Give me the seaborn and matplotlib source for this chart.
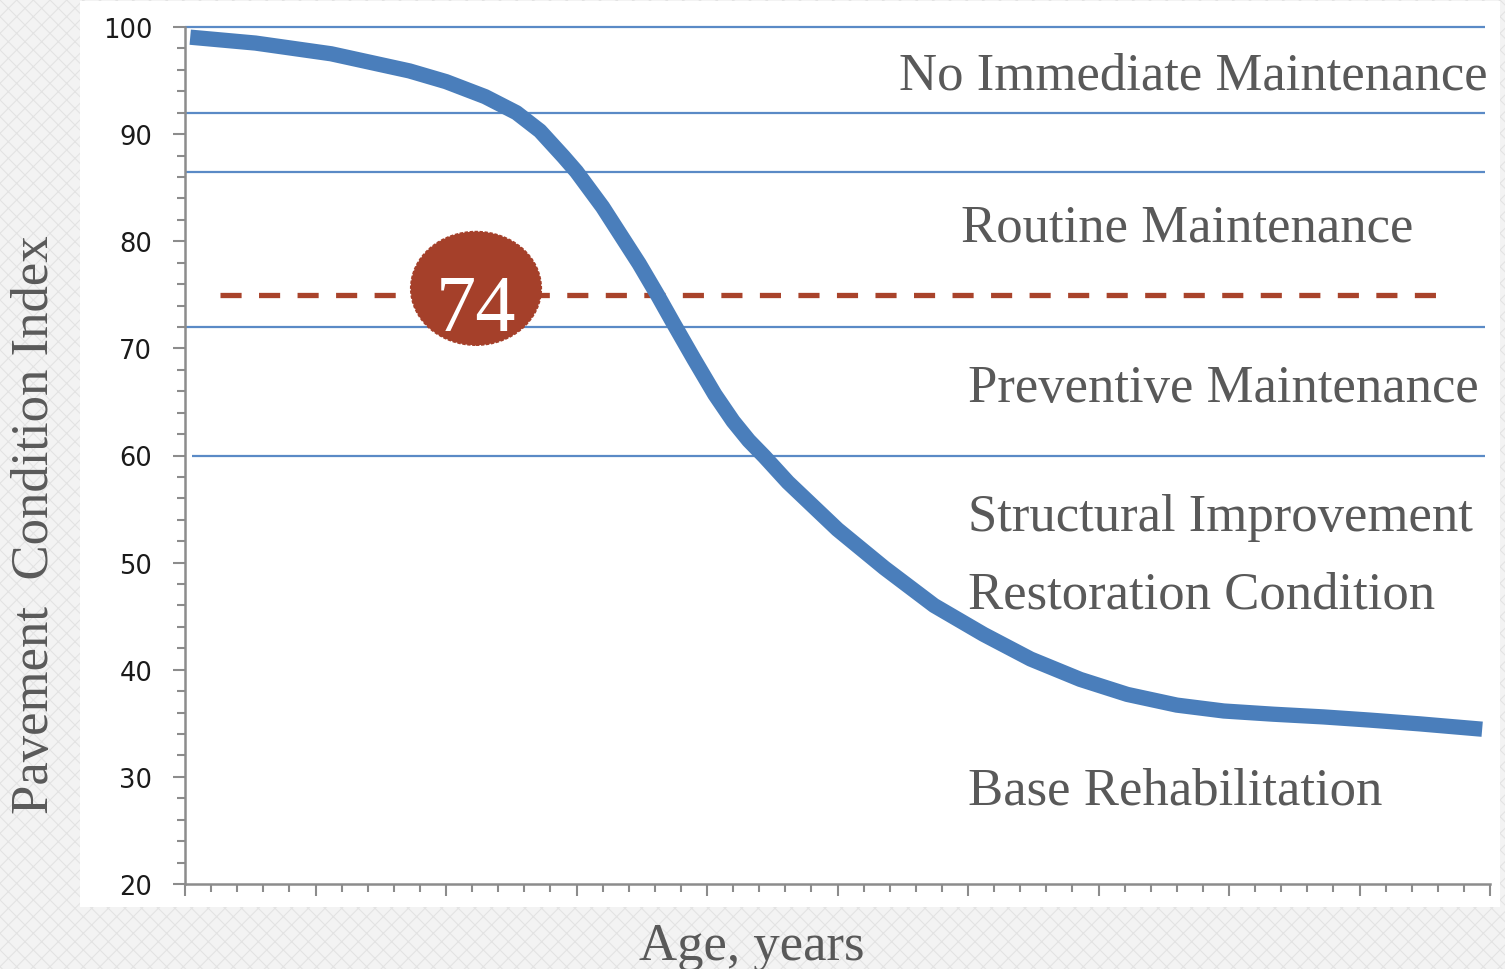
import matplotlib
matplotlib.use("Agg")
import matplotlib.pyplot as plt
import seaborn as sns
import pandas as pd
from matplotlib.patches import Rectangle, Ellipse
from matplotlib.ticker import MultipleLocator, NullFormatter

# ---- data ----
age_years = [0.2, 2.7, 5.6, 8.6, 10.0, 11.5, 12.7, 13.6, 14.5, 15.0, 16.0, 17.4,
             18.1, 18.7, 19.5, 20.3, 21.0, 21.6, 22.2, 23.1, 25.0, 26.8, 28.7,
             30.6, 32.4, 34.3, 36.1, 38.0, 39.8, 41.7, 43.6, 45.4, 47.3, 49.7]
pci = [99.05, 98.5, 97.5, 95.9, 94.9, 93.5, 92.0, 90.3, 87.9, 86.5, 83.2, 77.9,
       75.0, 72.4, 69.0, 65.7, 63.2, 61.4, 59.9, 57.5, 53.1, 49.5, 46.0,
       43.3, 41.0, 39.1, 37.7, 36.7, 36.15, 35.85, 35.6, 35.3, 34.95, 34.45]
thresholds = [100, 92, 86.5, 72, 60]
band_labels = ["No Immediate Maintenance", "Routine Maintenance",
               "Preventive Maintenance", "Structural Improvement",
               "Restoration Condition", "Base Rehabilitation"]
band_label_pci = [94.3, 80.1, 65.1, 53.0, 45.8, 27.5]
trigger_pci = 75
trigger_text = "74"
y_ticks = [20, 30, 40, 50, 60, 70, 80, 90, 100]

sns.set_theme(style="white")
plt.rcParams["font.family"] = ["DejaVu Sans"]
plt.rcParams["hatch.linewidth"] = 0.8

W, H = 1505, 970
fig = plt.figure(figsize=(W / 100, H / 100), dpi=100)
fig.patch.set_facecolor("#f2f2f2")
# patterned background + white panel
fig.patches.append(Rectangle((0, 0), 1, 1, transform=fig.transFigure,
                             facecolor="#f3f3f3", edgecolor="#e3e3e3",
                             hatch="xx", linewidth=0, zorder=-10))
fig.patches.append(Rectangle((80 / W, 1 - 908 / H), (1500 - 80) / W, (908 - 2) / H,
                             transform=fig.transFigure, facecolor="white",
                             edgecolor="none", zorder=-5))

ax = fig.add_axes([185 / W, 1 - 885 / H, (1490 - 185) / W, (885 - 28) / H])
ax.set_facecolor("white")
ax.patch.set_alpha(0)

df = pd.DataFrame({"age": age_years, "pci": pci})

# threshold lines
line_blue = "#5a8ac6"
for t in thresholds:
    x0 = 0.25 if t == 60 else 0.0
    ax.hlines(t, x0, 49.8, color=line_blue, lw=1.6, zorder=2, clip_on=False)

# trigger dashed line
ax.hlines(trigger_pci, 1.34, 48.0, color="#a9432b", lw=3.8,
          linestyles=(0, (4.0, 3.3)), zorder=3)

# curve
sns.lineplot(data=df, x="age", y="pci", ax=ax, color="#4a7ebb", lw=11,
             zorder=4, solid_capstyle="butt", solid_joinstyle="round",
             estimator=None, sort=False)

# circle with value
ax.add_patch(Ellipse((11.15, 75.6), 5.0, 10.6, facecolor="#a5402a",
                     edgecolor="#a5402a", lw=1.2, linestyle=(0, (2, 1)), zorder=5))
ax.text(11.15, 71.75, trigger_text, color="white", fontsize=58,
        family="Liberation Serif", ha="center", va="baseline", zorder=6)

# band labels
label_x = [27.35, 29.72, 30.0, 30.0, 30.0, 30.0]
for lbl, yv, xv in zip(band_labels, band_label_pci, label_x):
    ax.text(xv, yv, lbl, color="#595959", fontsize=38, family="Liberation Serif",
            ha="left", va="baseline", zorder=6)

ax.set_xlim(0, 50)
ax.set_ylim(20, 100)
ax.xaxis.set_major_locator(MultipleLocator(5))
ax.xaxis.set_minor_locator(MultipleLocator(1))
ax.xaxis.set_major_formatter(NullFormatter())
ax.set_yticks(y_ticks)
ax.yaxis.set_minor_locator(MultipleLocator(2))
ax.tick_params(axis="both", which="major", length=8.6, width=1.5, color="#8c8c8c",
               direction="out")
ax.tick_params(axis="both", which="minor", length=5.8, width=1.5, color="#8c8c8c",
               direction="out")
ax.tick_params(axis="y", which="major", labelsize=18.5, labelcolor="#1a1a1a", pad=15)
ax.tick_params(left=True, bottom=True, which="both")
for s in ["top", "right"]:
    ax.spines[s].set_visible(False)
for s in ["left", "bottom"]:
    ax.spines[s].set_color("#8c8c8c")
    ax.spines[s].set_linewidth(1.8)
ax.set_xlabel("")
ax.set_ylabel("")

fig.text(35 / W, 1 - 525 / H, "Pavement  Condition Index", rotation=90,
         color="#595959", fontsize=38, family="Liberation Serif",
         ha="center", va="center")
fig.text(752 / W, 1 - 960 / H, "Age, years", color="#595959", fontsize=38,
         family="Liberation Serif", ha="center", va="baseline")

fig.savefig("out.png", dpi=100, facecolor=fig.get_facecolor())
